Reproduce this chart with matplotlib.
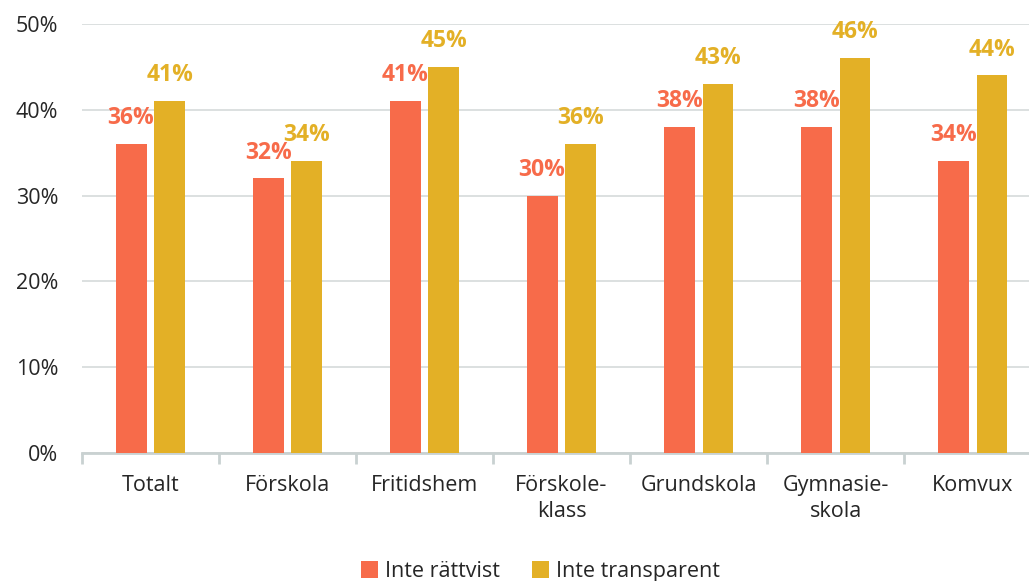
import numpy as np
import matplotlib.pyplot as plt

plt.rcParams['font.family'] = ['Open Sans', 'DejaVu Sans']

categories = ["Totalt", "Förskola", "Fritidshem", "Förskole-\nklass",
              "Grundskola", "Gymnasie-\nskola", "Komvux"]
inte_rattvist = [36, 32, 41, 30, 38, 38, 34]
inte_transparent = [41, 34, 45, 36, 43, 46, 44]

red = '#F76B4A'
yellow = '#E3B026'

fig = plt.figure(figsize=(10.29, 5.81), dpi=100)
ax = fig.add_axes([0.0797, 0.2203, 0.932, 0.7384])

x = np.arange(len(categories))
w = 0.226
off = 0.142
b1 = ax.bar(x - off, inte_rattvist, w, color=red, label='Inte rättvist', zorder=3)
b2 = ax.bar(x + off, inte_transparent, w, color=yellow, label='Inte transparent', zorder=3)

for bars, vals, c in [(b1, inte_rattvist, red), (b2, inte_transparent, yellow)]:
    for r, v in zip(bars, vals):
        ax.annotate(f"{v}%", (r.get_x() + r.get_width() / 2, v), xytext=(0, 10),
                    textcoords='offset points', ha='center', va='bottom',
                    color=c, fontsize=16.5, fontweight='bold')

ax.set_xlim(-0.5, len(categories) - 0.5)
ax.set_ylim(0, 50)
ax.set_yticks(range(0, 51, 10))
ax.set_yticklabels([f"{t}%" for t in range(0, 51, 10)], fontsize=15.5, color='#262626')
ax.yaxis.grid(True, color='#D5DADA', linewidth=1.2, zorder=0)
ax.tick_params(axis='y', length=0, pad=17)

ax.set_xticks(x)
ax.set_xticklabels(categories, fontsize=15.5, color='#262626', linespacing=1.3)
ax.set_xticks(np.arange(len(categories) + 1) - 0.5, minor=True)
ax.tick_params(axis='x', which='major', length=0, pad=16)
ax.tick_params(axis='x', which='minor', length=8, width=2, color='#C9D1D1')

for s in ['top', 'right', 'left']:
    ax.spines[s].set_visible(False)
ax.spines['bottom'].set_color('#C9D1D1')
ax.spines['bottom'].set_linewidth(2)

fig.legend(loc='lower center', bbox_to_anchor=(0.525, -0.035), ncol=2, frameon=False,
           fontsize=15.5, handlelength=0.8, handleheight=0.8, handletextpad=0.3,
           columnspacing=1.5, labelcolor='#262626')

fig.savefig('out.png', dpi=100)
